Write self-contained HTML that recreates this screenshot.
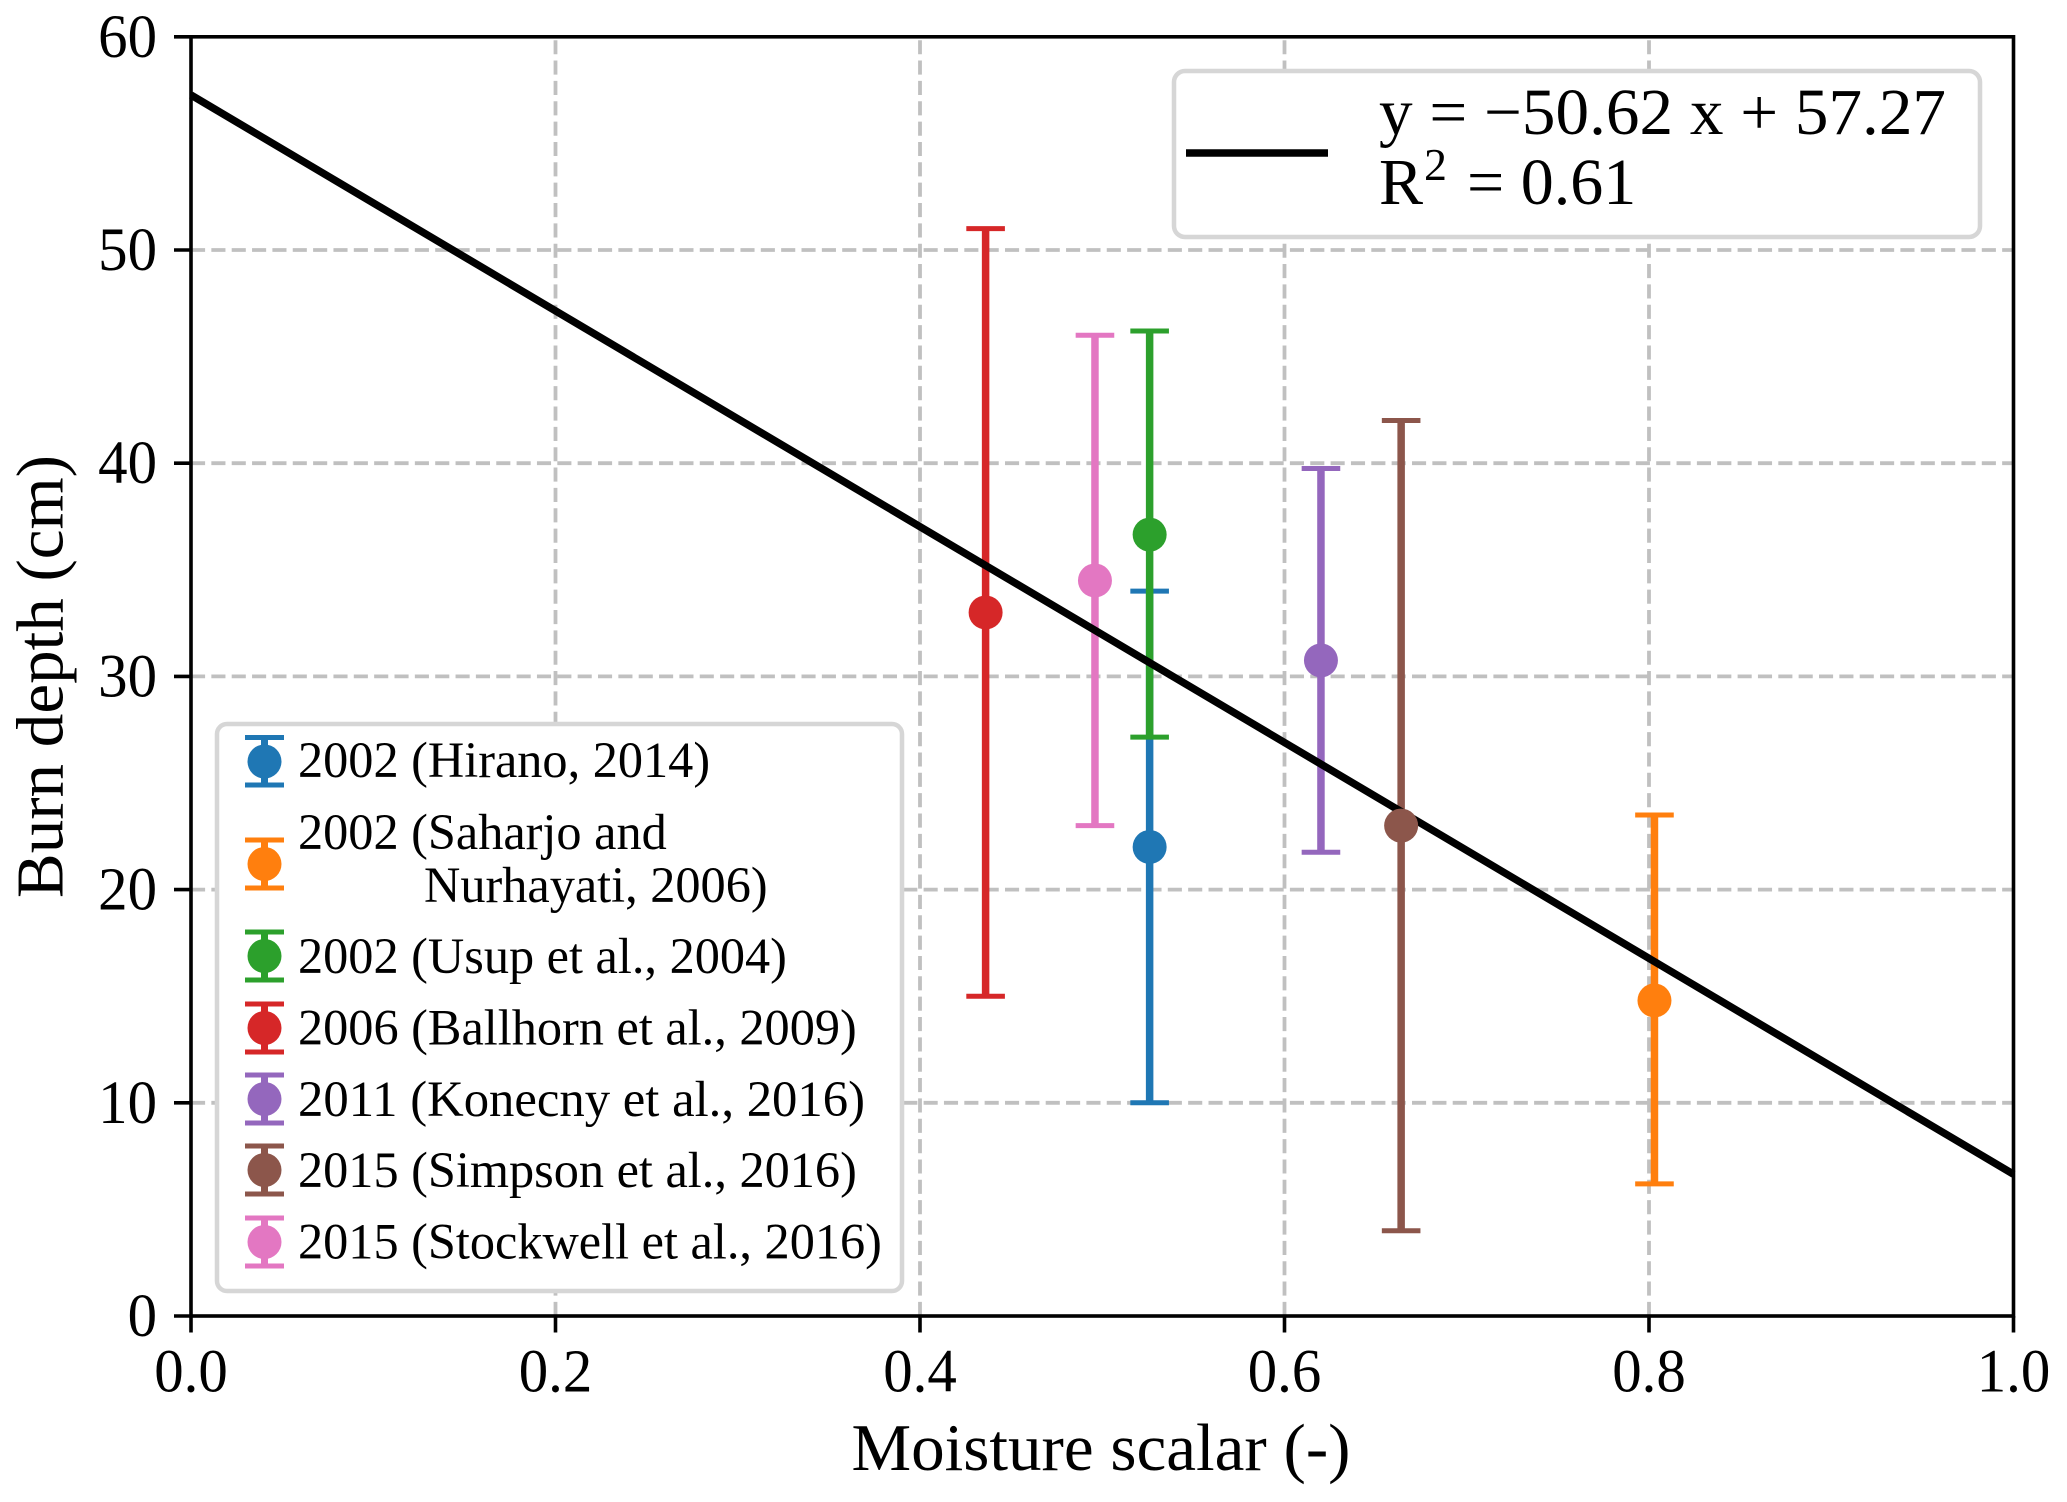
<!DOCTYPE html>
<html lang="en">
<head>
<meta charset="utf-8">
<title>Burn depth vs moisture scalar</title>
<style>
  html, body { margin: 0; padding: 0; background: #fff; }
  svg { display: block; }
  text { font-family: "Liberation Serif", "DejaVu Serif", serif; fill: #000; }
  .legend-text { font-size: 50.3px; }
  .tick-text { font-size: 61px; }
  .frame { fill: #fff; stroke: #d6d6d6; stroke-width: 4.5; }
</style>
</head>
<body>
<svg id="chart" xmlns="http://www.w3.org/2000/svg" width="2067" height="1502" viewBox="0 0 2067 1502">
  <rect x="0" y="0" width="2067" height="1502" fill="#fff"/>
  <g id="grid"></g>
  <g id="bars"></g>
  <g id="fit"></g>
  <g id="markers"></g>
  <g id="ticks"></g>
  <rect x="191" y="36.8" width="1822.5" height="1279.2" fill="none" stroke="#000" stroke-width="3.6"/>

  <text x="1101" y="1470" text-anchor="middle" font-size="67" textLength="499" lengthAdjust="spacingAndGlyphs">Moisture scalar (-)</text>
  <text transform="translate(62.7 676.5) rotate(-90)" text-anchor="middle" font-size="67" textLength="443" lengthAdjust="spacingAndGlyphs">Burn depth (cm)</text>

  <g>
    <rect class="frame" x="1174" y="71" width="806" height="166" rx="11"/>
    <line x1="1186" y1="153" x2="1328" y2="153" stroke="#000" stroke-width="7.5"/>
    <text x="1379" y="134" font-size="66" textLength="567" lengthAdjust="spacingAndGlyphs">y = −50.62 x + 57.27</text>
    <text y="204" font-size="66"><tspan x="1379">R</tspan><tspan x="1424" y="180" font-size="46">2</tspan><tspan x="1467" y="204">= 0.61</tspan></text>
  </g>

  <g>
    <rect class="frame" x="217" y="724" width="685" height="567" rx="10"/>

    <g stroke="#1f77b4" fill="#1f77b4">
      <line x1="264.5" x2="264.5" y1="736" y2="787" stroke-width="7"/>
      <line x1="245" x2="284" y1="737.5" y2="737.5" stroke-width="5"/>
      <line x1="245" x2="284" y1="785" y2="785" stroke-width="5"/>
      <circle cx="264.5" cy="761.5" r="17" stroke="none"/>
    </g>
    <text class="legend-text" x="298" y="777">2002 (Hirano, 2014)</text>

    <g stroke="#ff7f0e" fill="#ff7f0e">
      <line x1="264.5" x2="264.5" y1="838" y2="890" stroke-width="7"/>
      <line x1="245" x2="284" y1="840" y2="840" stroke-width="5"/>
      <line x1="245" x2="284" y1="888" y2="888" stroke-width="5"/>
      <circle cx="264.5" cy="864" r="17" stroke="none"/>
    </g>
    <text class="legend-text" x="298" y="849">2002 (Saharjo and</text>
    <text class="legend-text" x="424" y="902">Nurhayati, 2006)</text>

    <g stroke="#2ca02c" fill="#2ca02c">
      <line x1="264.5" x2="264.5" y1="930" y2="982" stroke-width="7"/>
      <line x1="245" x2="284" y1="932" y2="932" stroke-width="5"/>
      <line x1="245" x2="284" y1="980" y2="980" stroke-width="5"/>
      <circle cx="264.5" cy="956" r="17" stroke="none"/>
    </g>
    <text class="legend-text" x="298" y="973">2002 (Usup et al., 2004)</text>

    <g stroke="#d62728" fill="#d62728">
      <line x1="264.5" x2="264.5" y1="1002" y2="1054" stroke-width="7"/>
      <line x1="245" x2="284" y1="1004" y2="1004" stroke-width="5"/>
      <line x1="245" x2="284" y1="1052" y2="1052" stroke-width="5"/>
      <circle cx="264.5" cy="1028" r="17" stroke="none"/>
    </g>
    <text class="legend-text" x="298" y="1044.5">2006 (Ballhorn et al., 2009)</text>

    <g stroke="#9467bd" fill="#9467bd">
      <line x1="264.5" x2="264.5" y1="1073" y2="1125" stroke-width="7"/>
      <line x1="245" x2="284" y1="1075" y2="1075" stroke-width="5"/>
      <line x1="245" x2="284" y1="1123" y2="1123" stroke-width="5"/>
      <circle cx="264.5" cy="1099" r="17" stroke="none"/>
    </g>
    <text class="legend-text" x="298" y="1116" textLength="567" lengthAdjust="spacingAndGlyphs">2011 (Konecny et al., 2016)</text>

    <g stroke="#8c564b" fill="#8c564b">
      <line x1="264.5" x2="264.5" y1="1144" y2="1196" stroke-width="7"/>
      <line x1="245" x2="284" y1="1146" y2="1146" stroke-width="5"/>
      <line x1="245" x2="284" y1="1194" y2="1194" stroke-width="5"/>
      <circle cx="264.5" cy="1170" r="17" stroke="none"/>
    </g>
    <text class="legend-text" x="298" y="1187">2015 (Simpson et al., 2016)</text>

    <g stroke="#e377c2" fill="#e377c2">
      <line x1="264.5" x2="264.5" y1="1216" y2="1268" stroke-width="7"/>
      <line x1="245" x2="284" y1="1218" y2="1218" stroke-width="5"/>
      <line x1="245" x2="284" y1="1266" y2="1266" stroke-width="5"/>
      <circle cx="264.5" cy="1242" r="17" stroke="none"/>
    </g>
    <text class="legend-text" x="298" y="1258.5">2015 (Stockwell et al., 2016)</text>
  </g>
</svg>

<script>
const seriesNames = ["hirano", "saharjo", "usup", "ballhorn", "konecny", "simpson", "stockwell"];
const moistureValues = [0.526, 0.803, 0.526, 0.436, 0.62, 0.664, 0.496];
const burnDepthValues = [22, 14.8, 36.65, 33, 30.75, 23, 34.5];
const lowerValues = [10, 6.2, 27.15, 15, 21.75, 4, 23];
const upperValues = [34, 23.5, 46.2, 51, 39.75, 42, 46];
const seriesColors = ["#1f77b4", "#ff7f0e", "#2ca02c", "#d62728", "#9467bd", "#8c564b", "#e377c2"];
const xTickValues = [0, 0.2, 0.4, 0.6, 0.8, 1];
const xTickLabels = ["0.0", "0.2", "0.4", "0.6", "0.8", "1.0"];
const yTickValues = [0, 10, 20, 30, 40, 50, 60];
const yTickLabels = ["0", "10", "20", "30", "40", "50", "60"];
const fitSlope = -50.62;
const fitIntercept = 57.27;

const plotLeft = 191, plotRight = 2013.5, plotTop = 36.8, plotBottom = 1316;
const xScale = function (v) { return plotLeft + v * (plotRight - plotLeft); };
const yScale = function (v) { return plotBottom - (v / 60) * (plotBottom - plotTop); };
const NS = "http://www.w3.org/2000/svg";
const tickGlyphSquash = 0.965;

function make(tag, parent, props) {
  const el = document.createElementNS(NS, tag);
  Object.keys(props).forEach(function (k) { el.setAttribute(k, props[k]); });
  parent.appendChild(el);
  return el;
}

const gridLayer = document.getElementById("grid");
const barLayer = document.getElementById("bars");
const fitLayer = document.getElementById("fit");
const markerLayer = document.getElementById("markers");
const tickLayer = document.getElementById("ticks");
const gridStyle = { stroke: "#c0c0c0", "stroke-width": 3.8, "stroke-dasharray": "14.1 6.25", fill: "none" };

xTickValues.forEach(function (v, i) {
  const x = xScale(v);
  if (v > 0 && v < 1) {
    const g = make("line", gridLayer, Object.assign({ x1: x, x2: x, y1: plotBottom, y2: plotTop }, gridStyle));
    
    
  }
  const t = make("line", tickLayer, { x1: x, x2: x, y1: plotBottom, y2: plotBottom + 16.5, stroke: "#000", "stroke-width": 3.6 });
  
  
  const l = make("text", tickLayer, { transform: "translate(" + x + " 1391.5) scale(" + tickGlyphSquash + " 1)", "text-anchor": "middle", "class": "tick-text" });
  l.textContent = xTickLabels[i];
  
  
});

yTickValues.forEach(function (v, i) {
  const y = yScale(v);
  if (v > 0 && v < 60) {
    const g = make("line", gridLayer, Object.assign({ x1: plotLeft, x2: plotRight, y1: y, y2: y }, gridStyle));
    
    
  }
  const t = make("line", tickLayer, { x1: plotLeft - 17, x2: plotLeft, y1: y, y2: y, stroke: "#000", "stroke-width": 3.6 });
  
  
  const l = make("text", tickLayer, { transform: "translate(157 " + (y + 20) + ") scale(" + tickGlyphSquash + " 1)", "text-anchor": "end", "class": "tick-text" });
  l.textContent = yTickLabels[i];
  
  
});

seriesNames.forEach(function (name, i) {
  const x = xScale(moistureValues[i]);
  const color = seriesColors[i];
  const yLow = yScale(lowerValues[i]);
  const yHigh = yScale(upperValues[i]);
  const group = make("g", barLayer, { stroke: color });
  
  
  make("line", group, { x1: x, x2: x, y1: yLow, y2: yHigh, "stroke-width": 7.5 });
  make("line", group, { x1: x - 19.3, x2: x + 19.3, y1: yLow, y2: yLow, "stroke-width": 5 });
  make("line", group, { x1: x - 19.3, x2: x + 19.3, y1: yHigh, y2: yHigh, "stroke-width": 5 });
  const dot = make("circle", markerLayer, { cx: x, cy: yScale(burnDepthValues[i]), r: 17, fill: color });
  
  
});

const fitLine = make("line", fitLayer, {
  x1: xScale(0), y1: yScale(fitIntercept),
  x2: xScale(1), y2: yScale(fitSlope + fitIntercept),
  stroke: "#000", "stroke-width": 7.5
});


</script>
</body>
</html>
